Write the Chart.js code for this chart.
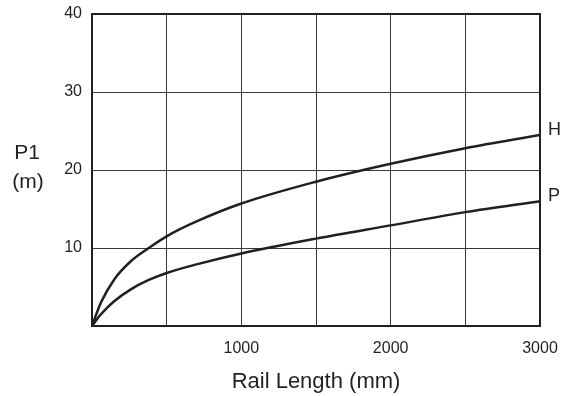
<!DOCTYPE html>
<html>
<head>
<meta charset="utf-8">
<script src="https://cdn.jsdelivr.net/npm/chart.js@4/dist/chart.umd.min.js"></script>
<style>
  html, body { margin: 0; padding: 0; background: #fff; }
  #wrap { width: 563px; height: 396px; position: relative; }
</style>
</head>
<body>
<div id="wrap"><canvas id="chart"></canvas></div>
<script>
// rail length in mm
var railLength = [0, 60, 150, 260, 380, 500, 700, 1000, 1500, 2000, 2500, 3000];
// P1 values (m) for each curve
var seriesH = [0, 3.0, 6.0, 8.3, 10.0, 11.5, 13.4, 15.7, 18.5, 20.8, 22.8, 24.5];
var seriesP = [0, 1.5, 3.2, 4.7, 5.9, 6.8, 7.9, 9.3, 11.2, 12.9, 14.6, 16.0];
var seriesNames = ['H', 'P'];
var xTickLabels = [1000, 2000, 3000];
var yTickLabels = [10, 20, 30, 40];

var ink = '#231f20';
var fontFamily = '"Liberation Sans", Arial, sans-serif';

function toPoints(xs, ys) {
    return xs.map(function (x, i) { return { x: x, y: ys[i] }; });
}

function makeDataset(name, values) {
    return {
        label: name,
        data: toPoints(railLength, values),
        borderColor: ink,
        borderWidth: 2.5,
        pointRadius: 0,
        showLine: true,
        fill: false,
        cubicInterpolationMode: 'monotone'
    };
}

// frame, curve end labels and the horizontal y title
var extras = {
    id: 'extras',
    afterDatasetsDraw: function (chart) {
        var ctx = chart.ctx;
        var a = chart.chartArea;
        ctx.save();
        ctx.strokeStyle = ink;
        ctx.lineWidth = 2;
        ctx.strokeRect(a.left, a.top, a.right - a.left, a.bottom - a.top);

        ctx.fillStyle = ink;
        ctx.font = '18px ' + fontFamily;
        ctx.textAlign = 'left';
        ctx.textBaseline = 'middle';
        chart.data.datasets.forEach(function (ds) {
            var last = ds.data[ds.data.length - 1];
            var px = chart.scales.x.getPixelForValue(last.x);
            var py = chart.scales.y.getPixelForValue(last.y);
            ctx.fillText(ds.label, px + 8, py - 5);
        });

        ctx.font = '21px ' + fontFamily;
        ctx.textAlign = 'center';
        ctx.fillText('P1', 27, 153);
        ctx.fillText('(m)', 28, 182);
        ctx.restore();
    }
};

var options = {
    type: 'scatter',
    data: {
        datasets: [
            makeDataset(seriesNames[0], seriesH),
            makeDataset(seriesNames[1], seriesP)
        ]
    },
    options: {
        responsive: true,
        maintainAspectRatio: false,
        animation: false,
        layout: {
            padding: { top: 14, right: 23, bottom: 0, left: 0 }
        },
        plugins: {
            legend: { display: false },
            tooltip: { enabled: false }
        },
        scales: {
            x: {
                type: 'linear',
                min: 0,
                max: 3000,
                afterFit: function (scale) {
                    scale.height = 70;
                    scale.paddingLeft = 0;
                    scale.paddingRight = 0;
                },
                grid: { color: '#3a3a3a', lineWidth: 1, drawTicks: false },
                border: { display: false },
                ticks: {
                    stepSize: 500,
                    padding: 13,
                    maxRotation: 0,
                    autoSkip: false,
                    color: ink,
                    font: { family: fontFamily, size: 16 },
                    callback: function (v) {
                        return xTickLabels.indexOf(v) >= 0 ? String(v) : '';
                    }
                },
                title: {
                    display: true,
                    text: 'Rail Length (mm)',
                    color: ink,
                    font: { family: fontFamily, size: 22 },
                    padding: { top: 0, bottom: 1 }
                }
            },
            y: {
                type: 'linear',
                min: 0,
                max: 40,
                afterFit: function (scale) {
                    scale.width = 92;
                    scale.paddingTop = 0;
                    scale.paddingBottom = 0;
                },
                grid: { color: '#3a3a3a', lineWidth: 1, drawTicks: false },
                border: { display: false },
                ticks: {
                    stepSize: 10,
                    padding: 10,
                    color: ink,
                    font: { family: fontFamily, size: 16 },
                    callback: function (v) {
                        return yTickLabels.indexOf(v) >= 0 ? String(v) : '';
                    }
                }
            }
        }
    },
    plugins: [extras]
};

var theChart = new Chart(document.getElementById('chart').getContext('2d'), options);
</script>
</body>
</html>
